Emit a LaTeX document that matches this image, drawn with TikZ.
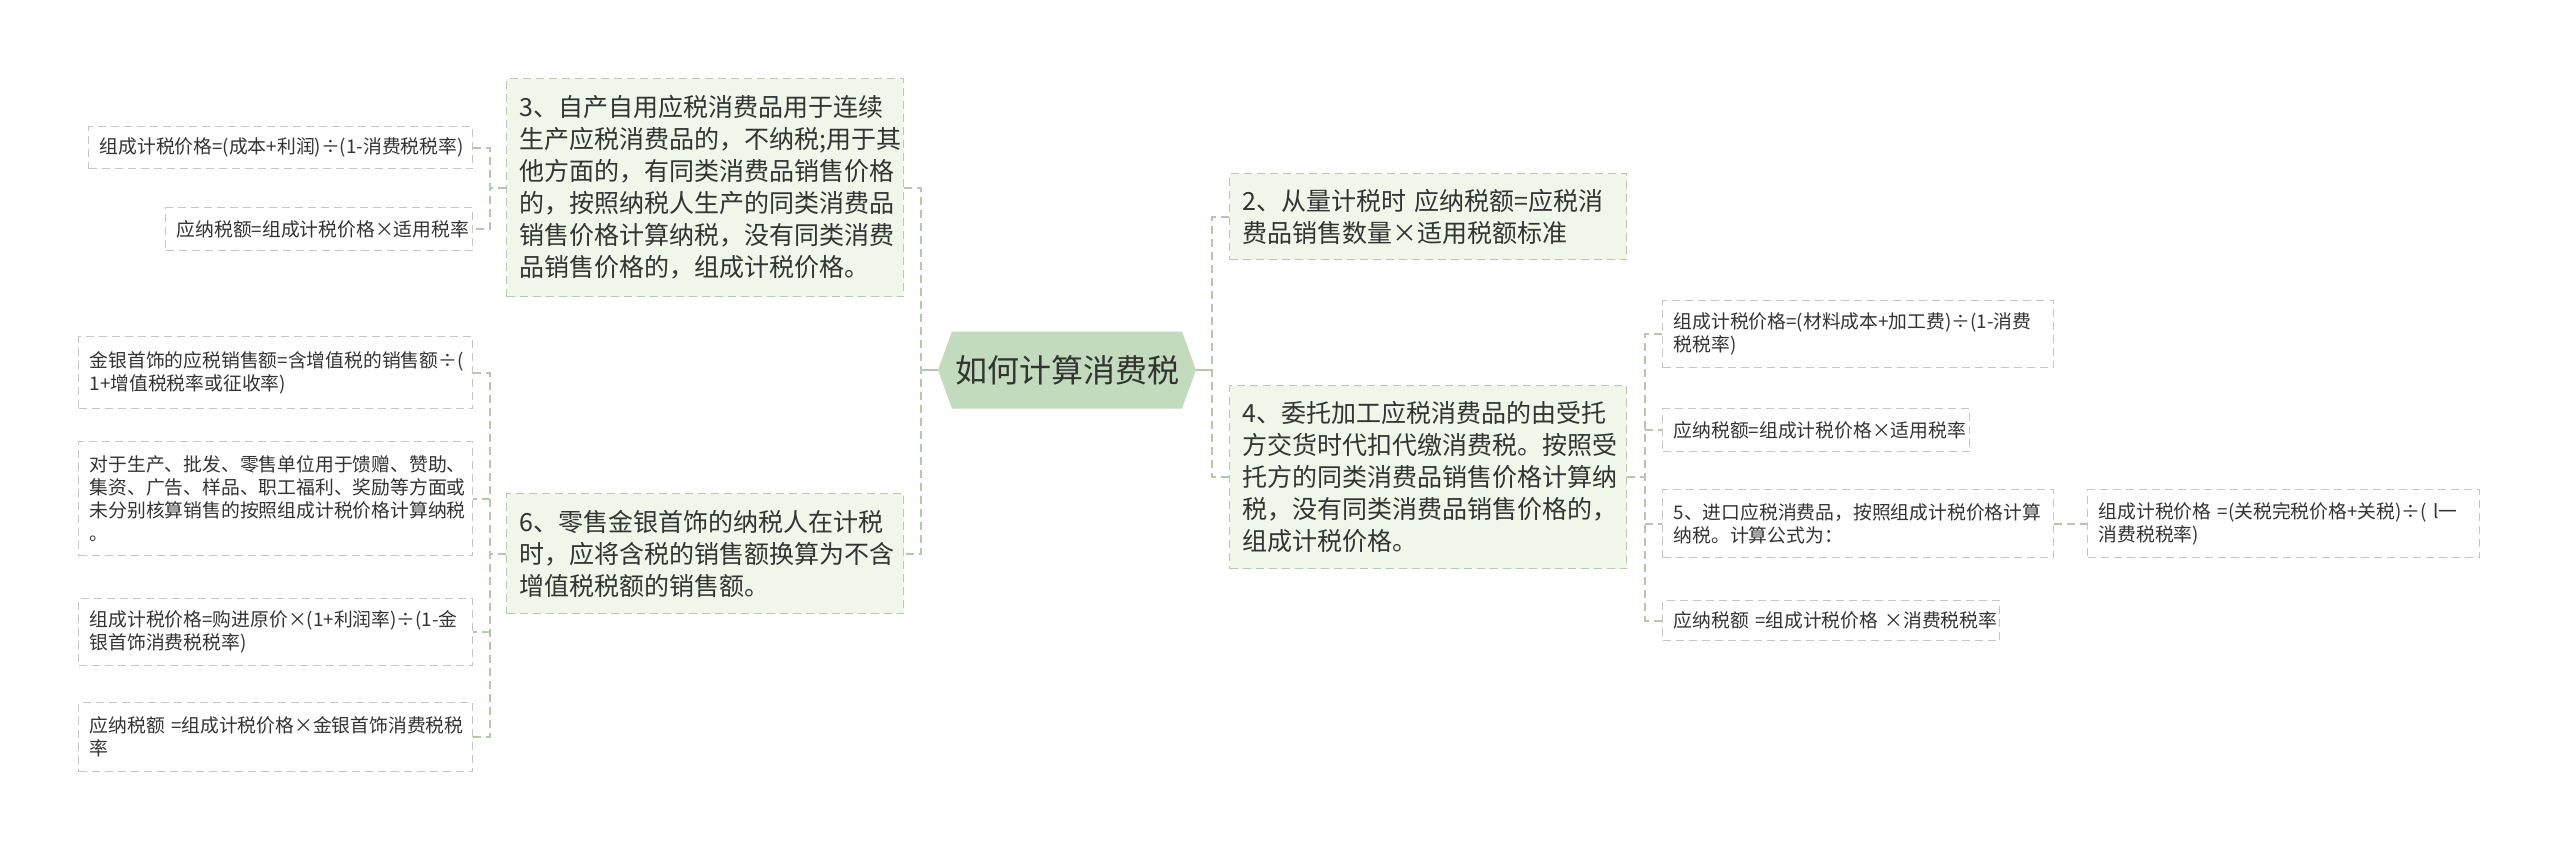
\documentclass[tikz,border=0pt]{standalone}
\usepackage{fontspec}
\setmainfont{Noto Sans CJK SC}
\usepackage{xcolor}
\usepackage{tikz}
\usetikzlibrary{shapes.symbols}

\definecolor{rootfill}{HTML}{C2DBBC}
\definecolor{branchfill}{HTML}{F0F6E9}
\definecolor{branchline}{HTML}{B9C8AF}
\definecolor{linkgreen}{HTML}{B5C8AC}
\definecolor{leafline}{HTML}{C6C6C6}
\definecolor{inktext}{HTML}{333333}

\exhyphenpenalty=10000
\hyphenpenalty=10000

\begin{document}
\begin{tikzpicture}[x=0.5pt, y=-0.5pt,
    rootbox/.style={shape=signal, signal to=west and east, signal pointer angle=140,
        fill=rootfill, text=inktext, minimum height=38.5pt, inner xsep=1.5pt,
        font=\fontsize{16}{19}\selectfont},
    branchbox/.style={draw=branchline, dashed, dash pattern=on 4pt off 2.5pt, line width=0.6pt,
        fill=branchfill, text=inktext, anchor=north west, align=left,
        inner xsep=6.5pt, text width=185.5pt, font=\fontsize{12.5}{16}\selectfont},
    leafbox/.style={draw=leafline, dash pattern=on 4pt off 2.5pt, line width=0.6pt,
        fill=white, text=inktext, anchor=north west, align=left,
        inner xsep=5.5pt, font=\fontsize{9.4}{11.6}\selectfont},
    link/.style={draw=linkgreen, line width=1pt, dash pattern=on 4pt off 2.5pt},
    rootlink/.style={draw=linkgreen, line width=1pt}]

    \fill[white] (0,0) rectangle (2560,851);

    \node[rootbox] (root) at (1067,370) {如何计算消费税};

    \node[branchbox, minimum height=109pt] (b3) at (506,78) {3、自产自用应税消费品用于连续\\生产应税消费品的，不纳税;用于其\\他方面的，有同类消费品销售价格\\的，按照纳税人生产的同类消费品\\销售价格计算纳税，没有同类消费\\品销售价格的，组成计税价格。};
    \node[branchbox, minimum height=60pt] (b6) at (506,493) {6、零售金银首饰的纳税人在计税\\时，应将含税的销售额换算为不含\\增值税税额的销售额。};
    \node[branchbox, minimum height=43pt] (b2) at (1229,173) {2、从量计税时~应纳税额=应税消\\费品销售数量×适用税额标准};
    \node[branchbox, minimum height=91.5pt] (b4) at (1229,385) {4、委托加工应税消费品的由受托\\方交货时代扣代缴消费税。按照受\\托方的同类消费品销售价格计算纳\\税，没有同类消费品销售价格的，\\组成计税价格。};

    \foreach \n/\x/\y/\w/\h/\t in {
        l3a/88/126/181pt/21pt/{组成计税价格=(成本+利润)÷(1-消费税税率)},
        l3b/165/207/142.5pt/21.5pt/{应纳税额=组成计税价格×适用税率},
        l6a/78/336/186pt/36pt/{金银首饰的应税销售额=含增值税的销售额÷(\\1+增值税税率或征收率)},
        l6b/78/441/186pt/57pt/{对于生产、批发、零售单位用于馈赠、赞助、\\集资、广告、样品、职工福利、奖励等方面或\\未分别核算销售的按照组成计税价格计算纳税\\。},
        l6c/78/598/186pt/33.5pt/{组成计税价格=购进原价×(1+利润率)÷(1-金\\银首饰消费税税率)},
        l6d/78/702/186pt/34.5pt/{应纳税额~=组成计税价格×金银首饰消费税税\\率},
        r4a/1662/300/184.5pt/33.5pt/{组成计税价格=(材料成本+加工费)÷(1-消费\\税税率)},
        r4b/1662/408/142.5pt/21.5pt/{应纳税额=组成计税价格×适用税率},
        r4c/1662/489/184.5pt/34pt/{5、进口应税消费品，按照组成计税价格计算\\纳税。计算公式为：},
        r4d/1662/600/157.5pt/20pt/{应纳税额~=组成计税价格~×消费税税率},
        r5a/2087/489/185pt/34pt/{组成计税价格~=(关税完税价格+关税)÷(~l一\\消费税税率)}}
        \node[leafbox, text width=\w, minimum height=\h] (\n) at (\x,\y) {\t};

    \coordinate (lj) at (921,370);
    \coordinate (rj) at (1212,370);
    \coordinate (j3) at ([xshift=-8pt]b3.west);
    \coordinate (j6) at ([xshift=-8pt]b6.west);
    \coordinate (j4) at ([xshift=9pt]b4.east);
    \coordinate (j5) at ([xshift=8.5pt]r4c.east);

    \draw[rootlink] (root.west) -- (lj);
    \draw[rootlink] (root.east) -- (rj);
    \draw[link] (b3.east) -| (lj) |- (b6.east);
    \draw[link] (b2.west) -| (rj) |- (b4.west);

    \draw[link] (b3.west) -- (j3);
    \draw[link] (l3a.east) -| (j3) |- (l3b.east);

    \draw[link] (b6.west) -- (j6);
    \draw[link] (l6a.east) -| (j6) |- (l6d.east);
    \draw[link] (j6 |- l6b.east) -- (l6b.east);
    \draw[link] (j6 |- l6c.east) -- (l6c.east);

    \draw[link] (b4.east) -- (j4);
    \draw[link] (r4a.west) -| (j4) |- (r4d.west);
    \draw[link] (j4 |- r4b.west) -- (r4b.west);
    \draw[link] (j4 |- r4c.west) -- (r4c.west);

    \draw[link] (r4c.east) -- (j5) -- (r5a.west);
\end{tikzpicture}
\end{document}
